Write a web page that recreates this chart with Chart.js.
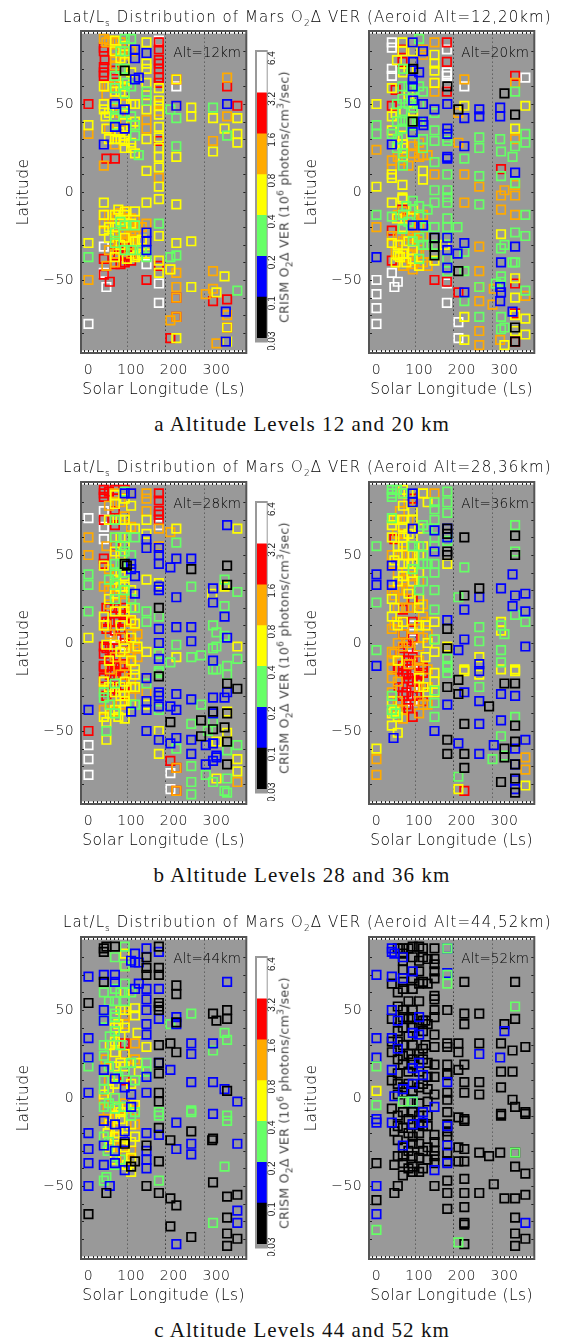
<!DOCTYPE html>
<html><head><meta charset="utf-8">
<script src="https://cdn.jsdelivr.net/npm/chart.js@4"></script>
<style>
html,body{margin:0;padding:0;background:#fff;width:561px;height:1339px;overflow:hidden}
canvas{position:absolute;display:block}
.t{position:absolute;white-space:nowrap;color:#000;font-family:"DejaVu Sans",sans-serif;font-weight:200}
.title{font-size:15px;letter-spacing:1.05px;left:63px}
.title sub,.cb sub,.cb sup{font-size:9px;line-height:0}
.alt{font-size:13.5px;letter-spacing:0;transform:translate(-100%,-50%);z-index:3}
.cap{font-family:"Liberation Serif",serif;font-size:21px;color:#111;font-weight:400;left:302px;transform:translate(-50%,-50%);letter-spacing:1.07px}
.cb{font-size:12.5px;font-weight:400;color:#444;letter-spacing:.3px;left:284px;transform:translate(-50%,-50%) rotate(-90deg)}
</style></head><body>
<script>
// x = solar longitude, y = latitude; flat pairs x,y,x,y...
const xTicks=[0,100,200,300], yTicks=[-50,0,50];
const dottedLs=[90,180,270];
const barColors=['#000000','#0000ff','#66ff66','#ffff00','#ffaa00','#ff0000','#ffffff'];
const barSegments=[1,1,1,1,1,1,1];
const barLabels=['0.03','0.1','0.2','0.4','0.8','1.6','3.2','6.4'];

const alt12_B=[109,81,109,76,136,79,109,64,118,65,62,50,62,37,85,36,36,27,206,49,325,50,136,-23,136,-28,322,-68,322,-85,136,-33,85,47];
const alt12_K=[85,69];
const alt12_G=[85,87,100,87,85,70,62,59,85,56,100,60,136,52,136,57,62,42,100,43,62,48,192,47,206,42,292,48,325,32,109,32,118,21,206,26,75,80,62,66,0,-37,165,-18,85,-19,136,-33,62,-29,192,-37,206,-36,349,-56,125,-33,136,-37,85,-33,109,-19,75,-17,75,70,90,62,85,80,62,38,85,45,109,38,62,-23,100,-33];
const alt12_Y=[0,38,36,50,36,47,40,43,48,45,62,42,136,85,136,73,136,70,136,62,136,47,165,59,165,52,165,49,165,37,165,31,165,20,165,14,165,3,165,-4,136,12,136,-6,36,-6,70,-10,85,-11,109,-11,206,64,206,20,206,-7,241,48,241,43,292,42,319,36,349,42,349,33,349,28,292,23,109,22,85,32,100,28,85,29,85,74,85,83,85,60,62,86,62,80,75,76,100,68,72,34,100,38,36,60,42,36,48,30,62,57,75,57,85,64,85,52,85,44,75,30,85,25,100,25,100,50,109,50,109,40,62,30,136,55,136,30,165,44,165,25,0,-29,36,-22,62,-13,85,-13,48,-26,85,-26,109,-28,125,-27,125,-35,136,-35,165,-25,241,-28,206,-29,165,-39,165,-46,192,-44,62,-37,241,-54,300,-57,319,-48,206,-83,325,-77,325,-85,109,-37,36,-13,62,-20,48,-20,75,-16,100,-18,115,-28,75,-30,90,-38,115,-36];
const alt12_O=[36,87,42,85,48,86,62,85,75,85,75,82,62,76,62,72,62,79,42,60,42,55,62,27,36,15,165,8,165,46,165,50,136,41,136,36,206,49,292,29,62,34,85,36,85,40,0,33,325,43,325,65,48,36,62,38,75,45,85,50,75,60,48,60,62,52,85,78,100,80,85,32,36,-13,48,-13,36,-18,136,-18,109,-16,100,-22,85,-24,109,-23,125,-28,136,-28,62,-20,70,-28,100,-30,0,-50,42,-42,62,-40,192,-44,206,-46,206,-54,292,-45,292,-55,275,-58,192,-73,300,-86,325,-70,75,-33,90,-18,62,-25,100,-15,206,-60,206,-71,48,-18,62,-15,75,-12,90,-15,100,-25,115,-20,62,-35,75,-22,85,-19,90,-28,100,-35,115,-33,125,-20,48,-33];
const alt12_R=[36,82,36,80,36,71,36,68,36,66,38,75,165,85,165,81,165,75,165,73,165,70,165,65,165,62,62,69,62,67,0,50,206,64,325,60,349,49,42,19,62,19,165,29,36,-38,62,-30,85,-30,85,-36,85,-40,75,-41,100,-39,36,-47,50,-51,136,-50,165,-42,206,-60,206,-71,192,-83,325,-61,292,-62,325,-77,85,-11,62,-41,70,-36,90,-33,75,-30,85,-33];
const alt12_W=[165,86,206,60,62,64,0,-75,36,-31,36,-46,42,-54,136,-41,165,-52,165,-63];

const alt20_K=[136,-26,136,-31,136,-36,192,-45,300,56,325,44,85,40,192,47,86,70,325,-77,325,-85,166,60];
const alt20_B=[86,52,109,50,136,47,85,34,109,40,110,38,36,27,166,36,166,33,166,20,166,19,166,50,206,42,241,47,241,43,290,48,290,43,86,74,85,64,85,85,109,80,85,60,206,26,325,11,100,68,0,-37,166,-26,166,-33,206,-29,325,-31,292,-40,166,-43,290,-54,292,-57,290,-62,319,-68,136,-26,109,-19,85,-19,190,-35,206,-57];
const alt20_G=[100,87,0,38,0,33,0,-13,136,35,136,29,136,17,136,1,136,-6,166,31,166,29,166,10,166,1,166,-3,166,-6,241,31,241,25,241,9,241,-7,290,30,292,23,292,9,319,20,325,26,325,5,349,33,349,28,325,57,206,19,136,-20,190,-20,166,-15,349,-13,349,-25,325,-23,292,-32,300,-30,319,-40,292,-48,292,-51,349,-56,206,-62,206,-45,206,-34,241,-54,241,-71,280,-52,292,-71,292,-78,300,-77,325,-40,61,60,61,53,61,46,61,40,61,36,85,58,100,60,109,57,36,33,61,-21,70,-8,100,-14,50,30,62,22,85,33,75,-17,100,-26,48,50,48,40,62,70,75,60,75,50,75,40,85,48,85,40,100,50,100,40,109,30,109,25,48,25,62,15,36,-14,62,-13,85,-5,100,-8,109,-30,120,-30,115,-20,120,-10,85,-28,100,-38,136,45,136,-30,136,-35,166,-20,166,-25,166,-38,166,-45];
const alt20_Y=[0,50,0,3,61,85,61,80,85,85,36,59,45,45,36,43,86,50,86,46,136,78,136,73,136,69,136,62,109,12,109,7,61,4,36,10,36,8,61,-3,61,-4,36,-6,86,-10,206,49,325,36,349,49,206,-84,325,-49,325,-60,325,-79,349,-72,349,-81,206,-71,292,-24,300,-87,325,-70,36,-29,55,-37,70,-40,45,-40,160,-30,136,-39,62,27,62,25,85,80,75,70,50,-30,85,-33,62,68,48,75,75,55,85,40,62,32,50,27,62,20,36,35,48,-15,62,-20,50,-36,62,-35,85,-38,100,-42,75,-28];
const alt20_O=[136,85,109,81,109,78,136,62,136,57,136,10,0,24,206,64,206,10,241,3,206,-6,325,62,192,45,192,28,241,-31,241,-45,241,-54,241,-62,241,-79,241,-87,349,-59,275,-55,272,-64,290,-84,100,-28,325,30,300,1,292,-2,292,-10,325,-2,325,-13,325,4,36,18,36,13,109,21,120,21,100,28,85,26,0,-20,36,-29,61,-11,85,-14,109,-13,100,-35,75,-35,62,-42,85,-41,45,-34,85,-22,50,-25,50,20,62,18,75,15,85,22,100,20,36,-25,50,-13,62,-28,75,-25,85,-25,100,-20,109,-25,115,-35,120,-42,100,-42,85,-44,62,-37,85,-31,75,-14,109,-40];
const alt20_R=[61,81,61,74,36,49,45,58,165,85,165,74,165,57,325,66,292,13,36,-22,36,-39,136,-50,165,-51,192,-57,325,-52,325,-69,325,-85,61,-10];
const alt20_W=[36,85,36,82,36,70,36,66,165,81,165,68,165,66,165,62,206,60,349,65,0,-50,0,-58,0,-66,0,-75,36,-46,50,-51,42,-54,165,-52,165,-63,192,-74,192,-83];

const alt28_K=[85,45,90,44,241,42,325,44,325,33,165,20,165,-19,325,-23,349,-26,192,-45,264,-44,292,-39,292,-49,319,-48,325,-40,264,-53,325,-56,325,-69];
const alt28_B=[325,67,100,45,100,42,109,38,109,28,136,59,136,54,165,54,165,50,165,45,206,48,192,43,241,48,165,32,165,30,206,26,292,31,292,23,319,15,206,9,241,9,241,1,165,8,165,0,165,-9,325,3,292,-10,85,85,100,85,136,-20,165,-28,206,-29,165,-30,136,-33,136,-38,165,-36,241,-32,192,-36,206,-38,292,-31,319,-31,325,-28,292,-40,0,-38,100,-39,136,-50,165,-55,192,-57,206,-54,241,-55,241,-63,275,-69,275,-58,292,-57,300,-64,292,-67,300,-65];
const alt28_G=[0,39,0,33,0,18,62,60,109,60,85,52,62,45,62,39,85,40,85,30,109,20,136,18,165,15,136,12,165,-6,206,57,241,32,349,29,319,36,319,21,292,10,300,6,319,4,292,-3,300,-2,206,-1,241,-8,264,-7,192,-11,165,-17,349,-9,325,-13,300,-15,325,-18,292,-15,165,-16,136,-23,62,-40,62,-23,36,-31,109,-35,165,-38,264,-35,241,-46,292,-45,280,-50,325,-61,349,-58,206,-60,241,-70,241,-79,241,-86,275,-75,292,-79,325,-77,319,-84,325,-85,42,-50,85,86,62,33,62,70,75,55,85,60,75,45,100,50,48,36,62,25,100,25,36,-28,50,-35];
const alt28_Y=[206,65,349,65,136,70,136,62,62,79,85,70,109,65,136,36,165,34,290,28,319,32,36,44,62,36,85,45,0,3,36,15,36,10,42,-1,62,-1,136,-5,165,-6,206,-8,349,-2,85,18,100,13,109,11,85,-3,100,-10,109,-15,36,-22,62,-28,85,-30,109,-25,62,-38,85,-38,85,-33,42,-45,36,-42,42,-55,165,-50,165,-63,136,-35,300,-77,349,-66,349,-73,300,-56,325,-51,325,-39,109,-18,85,60,62,52,85,32,62,28,85,82,100,78,75,-25,48,70,62,84,75,70,75,60,75,50,85,55,75,40,75,32,85,38,48,25,62,18,75,10,100,30,100,20,100,3,48,-10,75,-5,115,-2,85,-22,100,-25,48,-25,75,-30,100,-35,50,-40,70,-42,85,-43];
const alt28_O=[0,60,0,50,42,55,62,85,75,80,100,85,136,85,165,65,85,72,100,66,48,42,62,39,36,32,62,27,85,29,85,23,36,10,42,10,100,20,100,5,109,0,109,-3,100,-11,85,-9,62,-8,36,-22,136,-20,136,-28,165,55,192,63,206,-71,206,-84,349,-79,36,-38,85,-13,109,-26,62,-28,62,-39,136,82,136,75,48,78,62,60,62,50,48,30,48,22,75,30,100,12,50,5,75,3,100,-5,115,5,115,-8,50,-15,75,-18,100,-20,36,-26,48,-35,75,-35,100,-30];
const alt28_R=[36,87,36,85,36,83,48,86,62,87,85,87,165,85,165,81,62,75,165,75,165,73,165,70,36,70,62,71,62,67,36,48,36,45,62,55,42,20,62,20,85,20,62,12,85,12,100,13,42,12,85,3,85,0,42,-3,62,-3,36,-6,85,-9,36,-13,62,-13,50,-9,36,-14,62,-12,85,-12,62,-20,85,-18,85,-29,0,-50,192,-67,206,-71,206,-84,42,8,50,20,50,12,36,-2,62,7,75,18,75,8,85,16,62,-8,50,-3,62,-16,75,-14,36,-20,50,-18,75,-25,85,-25,62,-26,50,-28,42,-30];
const alt28_W=[0,71,36,75,36,66,36,59,85,85,165,67,62,3,85,-1,0,-58,0,-66,0,-75,192,-74,192,-83];

const alt36_K=[206,60,325,61,325,50,166,65,166,62,166,52,166,50,241,31,206,27,166,8,166,-3,192,-21,166,-25,192,-29,264,-36,206,-46,166,-55,166,-63,206,-63,206,-71,300,-23,325,-23,325,-47,325,-56,300,-60,300,-65,325,-69,292,-79,325,-77,325,-85];
const alt36_B=[0,39,0,33,36,44,36,33,136,64,136,52,166,65,166,60,319,39,292,31,349,28,325,27,319,21,349,18,206,19,241,26,166,13,206,2,192,-4,349,-2,241,-12,0,-13,85,85,85,80,85,65,241,-16,206,-28,241,-33,166,-35,292,-29,325,-30,292,-44,241,-46,136,-50,40,-54,349,-55,275,-58,192,-57,325,-60,241,-63,325,-69,325,-78,325,-83];
const alt36_G=[36,87,36,85,36,83,48,87,62,85,166,86,166,80,136,80,136,76,136,70,166,74,36,71,166,60,166,58,0,55,136,60,136,55,136,45,136,40,136,30,109,67,109,50,109,45,85,42,100,30,0,23,136,19,241,9,241,1,206,43,192,26,325,67,325,52,325,16,349,12,300,5,292,10,136,2,0,-4,292,-4,292,-11,166,-13,166,-17,166,-14,241,-25,136,-27,136,-34,136,-42,36,-30,45,-40,292,-53,325,-42,272,-66,300,-64,192,-76,166,-9,85,55,100,55,120,65,109,35,120,45,36,-38];
const alt36_Y=[62,87,62,85,85,85,109,85,120,80,62,78,40,70,36,67,62,70,85,70,85,75,62,60,62,55,42,47,62,45,85,45,109,55,85,35,100,25,36,25,42,20,36,15,62,12,100,20,136,12,166,45,136,-5,166,-2,136,2,292,12,292,7,241,-8,206,-15,241,-18,325,-15,292,-15,206,-16,325,-16,136,-22,136,-28,42,-39,36,-40,36,-47,50,-51,0,-60,349,-81,192,-83,100,-20,110,-25,75,85,62,38,50,55,36,60,50,50,62,66,75,62,85,60,100,65,100,50,100,40,75,45,50,35,50,10,75,28,85,50,100,10,115,10,120,0,115,-8,50,-10,36,-33,50,-42,120,-28,136,-17];
const alt36_O=[109,85,136,85,75,80,55,75,62,62,62,57,36,50,36,45,62,50,85,42,85,38,62,36,62,30,36,30,42,27,62,25,85,20,109,22,109,15,42,10,36,8,62,5,85,8,109,3,62,-2,100,-2,36,-10,42,-6,100,-14,36,-14,36,-20,36,-28,109,-35,120,-35,100,-40,62,-38,0,-66,0,-75,349,-65,349,-72,75,-12,50,-22,50,-33,100,-25,120,-15,48,70,48,62,75,70,75,50,75,38,50,40,50,30,75,30,100,35,50,20,75,20,48,12,50,0,75,0,100,8,115,12,120,5,50,-10,36,-5,115,-25,100,-10,100,-33,120,-25,50,-38,62,-43];
const alt36_R=[85,82,85,65,42,59,85,25,62,19,62,12,85,12,85,3,62,5,62,-3,85,-8,62,-13,75,-10,109,-14,62,-17,85,-17,109,-17,62,-25,85,-22,62,-30,85,-30,109,-25,109,-33,75,-37,85,-42,70,-28,206,-84,75,-20,52,-25,70,0,70,-10,55,-5,50,-15,75,-3,52,-15,95,-10,95,-22,95,-30,70,-18,70,-35,55,-33,100,-18];
const alt36_W=[85,10,85,2,85,-7,85,-15,85,-25,85,-33];

const alt44_K=[36,85,42,86,36,83,62,86,36,66,0,54,136,80,136,74,136,70,165,86,165,74,165,70,165,54,165,52,165,50,206,64,206,59,165,30,192,31,206,26,292,48,300,44,325,50,325,45,206,43,165,20,165,14,325,4,165,3,165,-2,241,-19,165,-17,192,-24,292,-23,290,-24,136,-27,85,-26,109,-36,165,-36,100,-39,136,-50,292,-48,42,-54,165,-54,192,-57,206,-61,325,-56,349,-55,0,-66,325,-68,192,-73,241,-79,325,-77,349,-80,325,-84];
const alt44_B=[0,69,36,70,62,70,62,66,36,50,36,44,0,34,0,23,36,16,62,11,0,3,100,78,109,82,109,77,118,77,118,65,109,62,136,85,136,62,136,56,136,50,136,42,136,36,136,12,136,3,165,83,165,62,165,45,165,20,206,46,206,42,241,31,241,25,241,9,192,16,292,31,292,9,319,5,349,-2,325,66,85,6,292,-9,100,2,36,-13,0,-20,36,-27,0,-29,0,-37,36,-38,62,-30,62,-15,85,-19,136,-20,165,-21,206,-14,241,-26,206,-29,241,-32,349,-26,136,-30,136,-35,136,-40,85,-41,50,-50,0,-50,349,-64,349,-71,206,-83,85,-25,62,-37,100,-5];
const alt44_G=[85,86,62,80,85,75,62,62,85,65,36,60,62,55,36,30,36,24,0,18,36,10,62,0,36,-5,62,-6,136,15,136,20,136,12,165,-8,241,-7,241,48,192,42,325,33,319,37,292,27,325,-10,62,38,85,-5,109,-8,325,-13,165,-10,241,-8,36,-22,62,-30,42,-45,36,-47,165,-47,319,-39,292,-71,62,46,85,15,36,45,48,55,62,48,75,60,85,55,100,60,75,30,50,35,48,18,36,5,48,-3,70,12,100,20,109,10,100,-10,45,-30,62,-38,75,-35,48,-25];
const alt44_Y=[85,82,85,75,85,60,85,50,70,42,62,40,62,32,85,25,62,18,85,18,109,47,109,51,115,37,115,20,118,15,100,8,62,26,36,2,136,29,109,-4,85,-22,62,-22,50,-15,85,-28,109,-22,90,-38,100,-42,70,-20,70,-5,45,-20,62,-10,100,-34,75,50,75,35,85,40,75,20,50,30,48,5,62,8,75,-8,100,-15,100,-25,75,-12,50,-28,62,-35];
const alt44_O=[85,47,85,42,62,0,85,-3,109,-7,36,-1,109,22,109,31,36,-12,109,-15,85,-6,85,-30,100,-30,75,-28,45,-7,62,-25,85,-35,40,22,48,10,48,-12,62,-18];
const alt44_R=[85,31,85,25,85,10];

const alt52_K=[62,85,75,85,85,86,100,86,109,85,136,85,136,79,136,76,136,72,136,68,62,78,100,78,109,80,120,79,62,73,36,65,100,65,109,66,120,65,50,60,62,62,85,62,136,58,136,56,136,50,166,50,62,50,85,50,36,45,62,46,85,46,109,44,115,44,136,46,136,36,206,48,241,48,206,42,300,42,325,45,206,66,325,66,50,38,85,40,109,38,36,32,62,30,85,30,109,28,115,30,136,29,166,29,166,31,192,31,192,26,241,31,292,31,319,27,349,29,36,26,62,24,85,22,109,22,120,20,62,19,85,19,136,19,166,19,206,19,192,16,292,15,319,15,136,12,166,14,166,13,206,9,241,9,292,6,36,10,50,8,62,6,109,8,100,6,136,2,166,3,166,-1,206,3,241,2,62,3,85,4,319,-1,325,-5,349,-8,292,-9,166,-8,36,-6,62,-8,85,-8,192,-11,206,-13,292,-10,349,-9,206,-12,42,-19,62,-17,85,-15,100,-15,109,-16,120,-16,166,-15,166,-19,166,-22,136,-21,136,-25,85,-22,50,-24,62,-28,85,-26,100,-26,109,-30,120,-28,136,-30,136,-33,136,-37,166,-31,166,-36,192,-28,206,-29,192,-36,206,-36,241,-31,264,-33,290,-31,325,-31,0,-37,42,-38,62,-37,85,-39,109,-40,62,-44,85,-42,100,-42,325,-39,349,-43,166,-47,206,-46,136,-50,50,-50,42,-54,166,-54,206,-54,241,-54,275,-49,300,-57,325,-57,349,-55,0,-58,166,-63,206,-62,325,-68,206,-71,206,-72,325,-77,349,-80,206,-83,325,-84,50,85,62,82,85,80,100,72,85,68,62,66,50,52,75,55,100,55,75,45,100,42,62,40,75,35,120,42,50,32,75,25,100,25,50,22,75,15,100,15,120,12,50,14,75,8,120,5,50,2,75,-2,100,-3,120,-2,50,-10,75,-12,100,-10,120,-10,50,-16,75,-20,100,-20,75,-30,50,-33,62,-33,85,-33,100,-34,120,-35,75,-40];
const alt52_B=[36,85,36,83,42,82,62,80,0,70,36,69,62,68,85,72,36,50,50,44,0,34,36,34,85,37,100,36,100,46,50,28,0,23,300,38,241,25,290,23,166,85,166,71,36,16,62,5,85,8,109,13,85,17,100,20,166,9,42,1,109,-8,136,-5,85,-2,0,-12,0,-14,36,-14,85,-15,109,-14,166,-16,62,-27,166,-27,166,-37,136,-41,0,-50,0,-66,349,-71];
const alt52_G=[166,85,166,70,166,65,325,52,0,18,62,-2,85,-2,0,-4,0,-75,192,-82,325,-31];
const alt52_Y=[0,4];

const seriesOrder=['K','B','G','Y','O','R','W'];
const colorOf={K:barColors[0],B:barColors[1],G:barColors[2],Y:barColors[3],O:barColors[4],R:barColors[5],W:barColors[6]};
const pairs=a=>{const o=[];for(let i=0;i<a.length;i+=2)o.push({x:a[i],y:a[i+1]});return o;};

const panels=[
 {alt:12,left:0,top:0,s:{K:alt12_K,B:alt12_B,G:alt12_G,Y:alt12_Y,O:alt12_O,R:alt12_R,W:alt12_W}},
 {alt:20,left:288,top:0,s:{K:alt20_K,B:alt20_B,G:alt20_G,Y:alt20_Y,O:alt20_O,R:alt20_R,W:alt20_W}},
 {alt:28,left:0,top:451,s:{K:alt28_K,B:alt28_B,G:alt28_G,Y:alt28_Y,O:alt28_O,R:alt28_R,W:alt28_W}},
 {alt:36,left:288,top:451,s:{K:alt36_K,B:alt36_B,G:alt36_G,Y:alt36_Y,O:alt36_O,R:alt36_R,W:alt36_W}},
 {alt:44,left:0,top:906,s:{K:alt44_K,B:alt44_B,G:alt44_G,Y:alt44_Y,O:alt44_O,R:alt44_R}},
 {alt:52,left:288,top:906,order:['G','Y','B','K'],s:{K:alt52_K,B:alt52_B,G:alt52_G,Y:alt52_Y}}
];
const rows=[{top:0,alts:'12,20',cap:'a Altitude Levels 12 and 20 km',ty:17,cy:424},
            {top:451,alts:'28,36',cap:'b Altitude Levels 28 and 36 km',ty:467,cy:875},
            {top:906,alts:'44,52',cap:'c Altitude Levels 44 and 52 km',ty:922,cy:1330}];

const frame={id:'frame',
 beforeDraw(c){c.ctx.letterSpacing='0.4px';},
 beforeDatasetsDraw(c){
  const {ctx,chartArea:a,scales:{x,y}}=c;
  ctx.save();
  ctx.fillStyle='#999999';
  const t=y.getPixelForValue(90),b=y.getPixelForValue(-90);
  ctx.fillRect(a.left,t,a.width,b-t);
  ctx.lineWidth=1;
  dottedLs.forEach(v=>{
    ctx.strokeStyle=v===180?'#111':'#444';
    ctx.setLineDash([1,3]);
    ctx.beginPath();const p=Math.round(x.getPixelForValue(v))+.5;ctx.moveTo(p,t);ctx.lineTo(p,b);ctx.stroke();
  });
  ctx.restore();
 },
 afterDatasetsDraw(c){
  const {ctx,chartArea:a,scales:{x,y}}=c;
  ctx.save();
  ctx.strokeStyle='#222';ctx.lineWidth=1;ctx.beginPath();
  for(let v=-10;v<=360;v+=10){const p=Math.round(x.getPixelForValue(v))+.5;
    ctx.moveTo(p,a.top);ctx.lineTo(p,a.top+3);ctx.moveTo(p,a.bottom);ctx.lineTo(p,a.bottom-3);}
  for(let v=-80;v<=80;v+=10){const p=Math.round(y.getPixelForValue(v))+.5;
    ctx.moveTo(a.left,p);ctx.lineTo(a.left+3,p);ctx.moveTo(a.right,p);ctx.lineTo(a.right-3,p);}
  ctx.stroke();
  ctx.strokeStyle='#555';ctx.lineWidth=2;ctx.strokeRect(a.left,a.top,a.width,a.height);
  ctx.restore();
 }};

const txtFont={family:'"DejaVu Sans"',size:14,weight:'200'};
const axisTitleFont={family:'"DejaVu Sans"',size:15.5,weight:'200'};
function addCanvas(l,t,w,h){const c=document.createElement('canvas');c.width=w;c.height=h;c.style.left=l+'px';c.style.top=t+'px';c.style.width=w+'px';c.style.height=h+'px';document.body.appendChild(c);return c;}
function addText(cls,html,css){const d=document.createElement('div');d.className='t '+cls;d.innerHTML=html;d.style.cssText=css;document.body.appendChild(d);}

panels.forEach(p=>{
 const cv=addCanvas(p.left,p.top,254,400);
 new Chart(cv,{type:'scatter',
  data:{datasets:(p.order||seriesOrder).filter(k=>p.s[k]).map(k=>({label:k,data:pairs(p.s[k]),showLine:false,pointStyle:'rect',pointRadius:6,pointBorderWidth:1.7,pointBackgroundColor:'rgba(0,0,0,0)',pointBorderColor:colorOf[k]}))},
  options:{responsive:false,animation:false,events:[],layout:{padding:{top:31,right:7}},
   plugins:{legend:{display:false},tooltip:{enabled:false},title:{display:false}},
   scales:{
    x:{type:'linear',min:-17.5,max:370,afterBuildTicks:s=>{s.ticks=xTicks.map(v=>({value:v}))},afterFit:s=>{s.height=47},
       grid:{display:false,drawTicks:false},border:{display:false},
       ticks:{font:txtFont,color:'#000',padding:9,maxRotation:0,autoSkip:false,callback:v=>String(v)},
       title:{display:true,text:'Solar Longitude (Ls)',font:axisTitleFont,color:'#000',padding:{top:0,bottom:1.2}}},
    y:{type:'linear',min:-91.5,max:91.5,afterBuildTicks:s=>{s.ticks=yTicks.map(v=>({value:v}))},afterFit:s=>{s.width=81},
       grid:{display:false,drawTicks:false},border:{display:false},
       ticks:{font:txtFont,color:'#000',padding:7,autoSkip:false,callback:v=>v<0?'\u2212'+Math.abs(v):String(v)},
       title:{display:true,text:'Latitude',font:axisTitleFont,color:'#000',padding:{top:15,bottom:0}}}
   }},
  plugins:[frame]});
 addText('alt','Alt='+p.alt+'km','left:'+(p.left+241)+'px;top:'+(p.top+52)+'px');
});

const barFrame={id:'barFrame',beforeDatasetsDraw(c){const {ctx,chartArea:a}=c;ctx.save();ctx.fillStyle='#999999';ctx.fillRect(a.left-2,a.top-2,a.width+3,a.height+6.5);ctx.restore();}};
rows.forEach(r=>{
 const cv=addCanvas(250,r.top+40,36,310);
 new Chart(cv,{type:'bar',
  data:{labels:['VER'],datasets:barSegments.map((v,i)=>({data:[v],backgroundColor:barColors[i],borderWidth:0,barPercentage:1,categoryPercentage:1}))},
  options:{responsive:false,animation:false,events:[],layout:{padding:{top:9.5,left:7,bottom:0}},
   plugins:{legend:{display:false},tooltip:{enabled:false}},
   scales:{
    x:{stacked:true,display:false},
    y:{stacked:true,min:0,max:7,position:'right',afterBuildTicks:s=>{s.ticks=barLabels.map((l,i)=>({value:i}))},afterFit:s=>{s.width=19.3},
       grid:{display:false,drawTicks:false},border:{display:false},
       ticks:{font:{family:'"Liberation Sans"',size:10},color:'#222',padding:6,minRotation:90,maxRotation:90,labelOffset:13,autoSkip:false,callback:(v,i)=>barLabels[i]}}
   }},
  plugins:[barFrame]});
 addText('cb','CRISM O<sub>2</sub>\u0394 VER (10<sup>6</sup> photons/cm<sup>3</sup>/sec)','top:'+(r.top+197)+'px');
 addText('title','Lat/L<sub>s</sub> Distribution of Mars O<sub>2</sub>\u0394 VER (Aeroid Alt='+r.alts+'km)','top:'+(r.ty-9)+'px');
 addText('cap',r.cap,'top:'+r.cy+'px');
});
</script>
</body></html>
